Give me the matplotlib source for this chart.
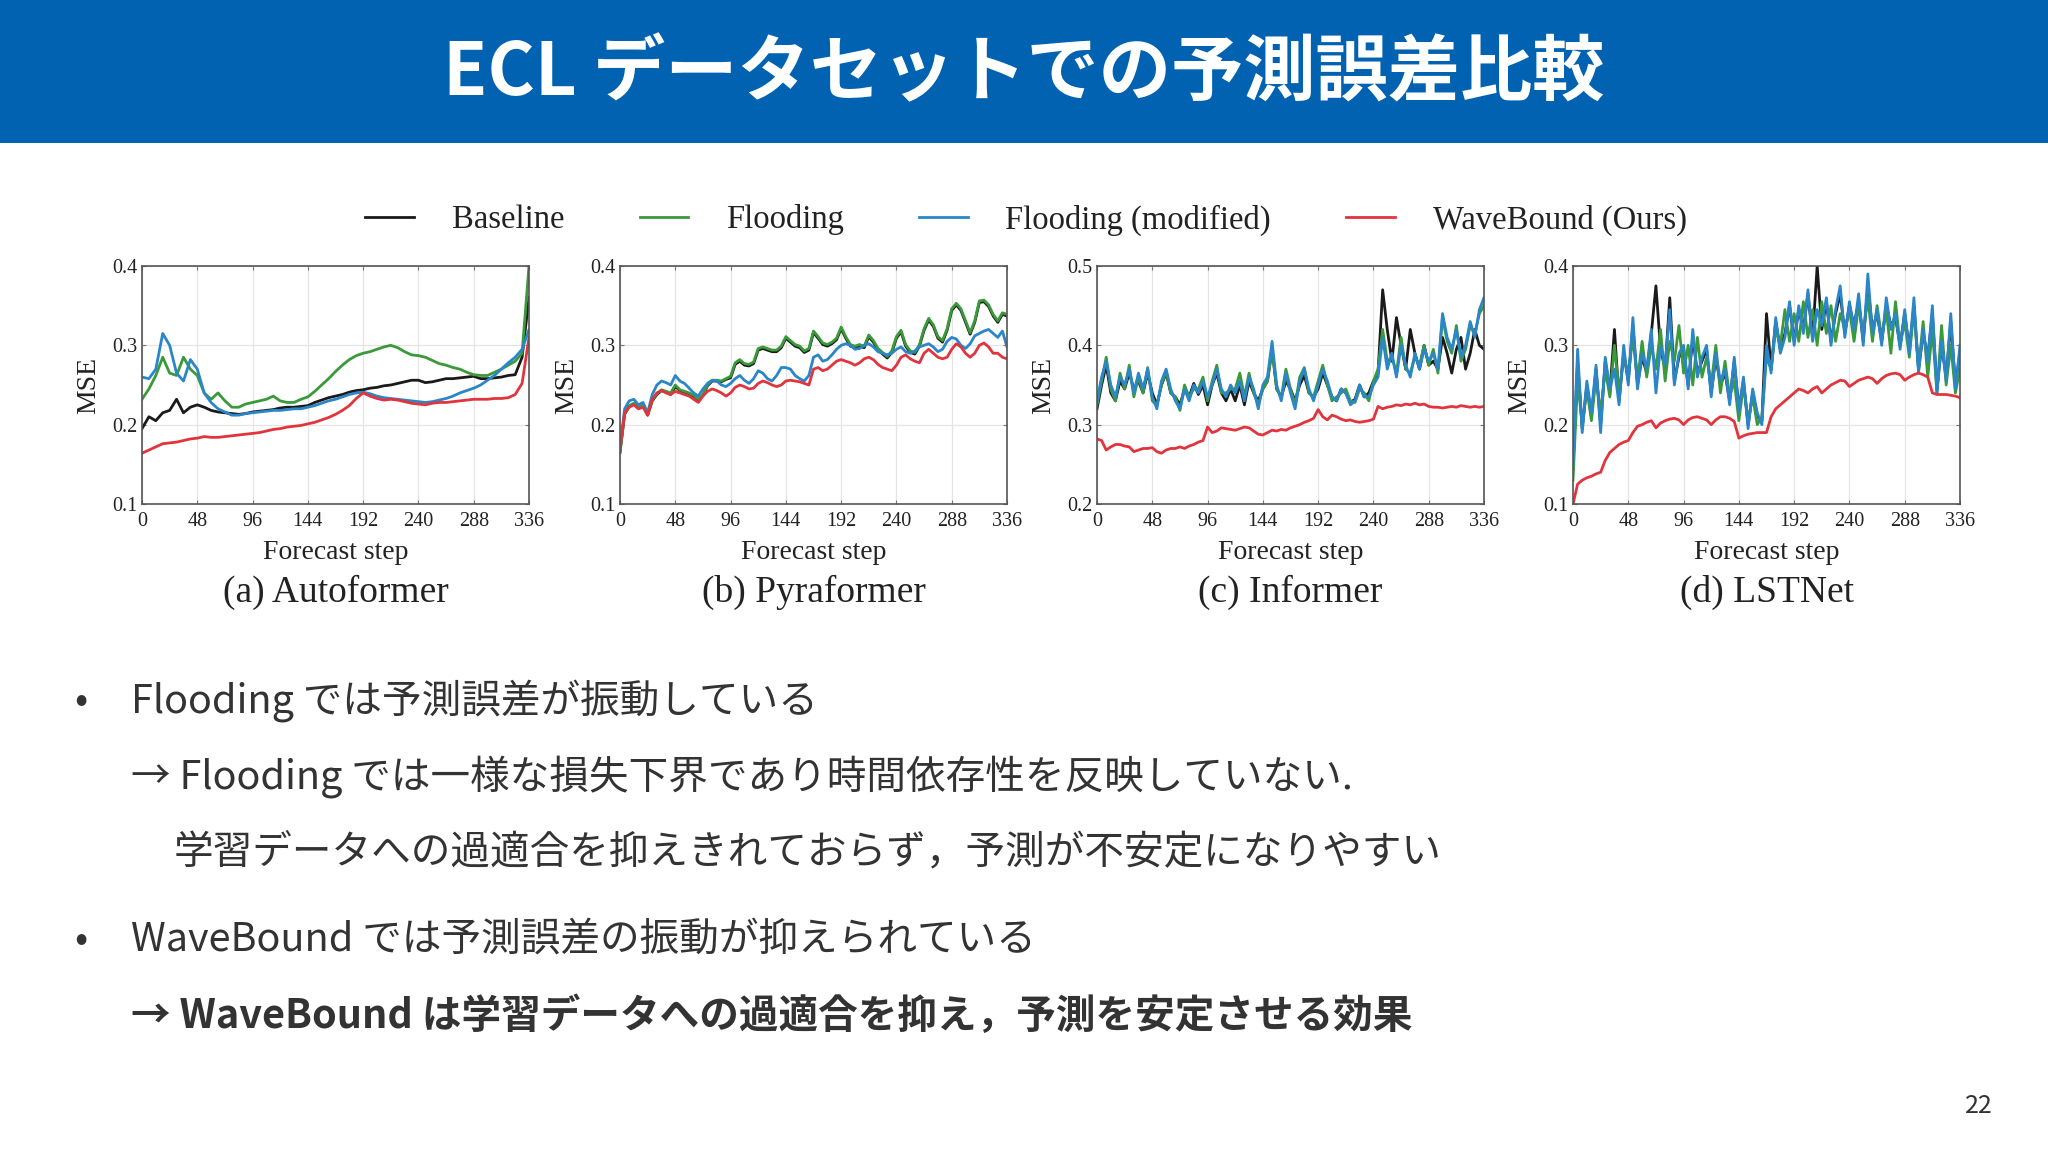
import numpy as np
import matplotlib
matplotlib.use("Agg")
import matplotlib.pyplot as plt
from matplotlib.lines import Line2D
from matplotlib.patches import Rectangle

JP = ["Noto Sans CJK JP", "DejaVu Sans"]
SERIF = "Liberation Serif"

TITLE = "ECL データセットでの予測誤差比較"
SERIES = ["Baseline", "Flooding", "Flooding (modified)", "WaveBound (Ours)"]
COLORS = ["#1a1a1a", "#3a9a3a", "#2a86c8", "#e2343c"]
XTICKS = [0, 48, 96, 144, 192, 240, 288, 336]
PANEL_TITLES = ["(a) Autoformer", "(b) Pyraformer", "(c) Informer", "(d) LSTNet"]
YLIMS = [(0.1, 0.4), (0.1, 0.4), (0.2, 0.5), (0.1, 0.4)]

# ---- (a) Autoformer, every 6 steps
auto_base = [0.195, 0.210, 0.205, 0.215, 0.218, 0.232, 0.215, 0.222, 0.225,
             0.222, 0.218, 0.216, 0.215, 0.214, 0.213, 0.214, 0.216,
             0.217, 0.218, 0.219, 0.221, 0.222, 0.222, 0.223, 0.224,
             0.228, 0.231, 0.234, 0.236, 0.238, 0.241, 0.243, 0.244,
             0.246, 0.247, 0.249, 0.250, 0.252, 0.254, 0.256, 0.256,
             0.253, 0.254, 0.256, 0.258, 0.258, 0.259, 0.260, 0.261,
             0.258, 0.258, 0.259, 0.260, 0.262, 0.263, 0.285, 0.360]
auto_flood = [0.232, 0.245, 0.262, 0.285, 0.265, 0.262, 0.285, 0.270, 0.262,
              0.240, 0.232, 0.240, 0.230, 0.222, 0.222, 0.226, 0.228,
              0.230, 0.232, 0.236, 0.230, 0.228, 0.228, 0.232, 0.235,
              0.242, 0.250, 0.258, 0.267, 0.275, 0.282, 0.287, 0.290,
              0.292, 0.295, 0.298, 0.300, 0.297, 0.292, 0.288, 0.287,
              0.285, 0.281, 0.277, 0.275, 0.272, 0.270, 0.266, 0.263,
              0.262, 0.262, 0.266, 0.270, 0.275, 0.280, 0.290, 0.400]
auto_mod = [0.260, 0.258, 0.270, 0.315, 0.300, 0.265, 0.255, 0.282, 0.270,
            0.240, 0.228, 0.220, 0.216, 0.212, 0.212, 0.214, 0.215,
            0.216, 0.217, 0.218, 0.218, 0.219, 0.220, 0.220, 0.222,
            0.224, 0.227, 0.230, 0.232, 0.235, 0.238, 0.240, 0.241,
            0.239, 0.236, 0.234, 0.233, 0.232, 0.231, 0.230, 0.229,
            0.228, 0.229, 0.231, 0.233, 0.236, 0.240, 0.243, 0.246,
            0.250, 0.256, 0.262, 0.270, 0.278, 0.285, 0.295, 0.320]
auto_wave = [0.164, 0.168, 0.172, 0.176, 0.177, 0.178, 0.180, 0.182, 0.183,
             0.185, 0.184, 0.184, 0.185, 0.186, 0.187, 0.188, 0.189,
             0.190, 0.192, 0.194, 0.195, 0.197, 0.198, 0.199, 0.201,
             0.203, 0.206, 0.209, 0.213, 0.218, 0.224, 0.233, 0.240,
             0.236, 0.233, 0.231, 0.232, 0.231, 0.229, 0.227, 0.226,
             0.225, 0.227, 0.228, 0.228, 0.229, 0.230, 0.231, 0.232,
             0.232, 0.232, 0.233, 0.233, 0.234, 0.238, 0.252, 0.310]

# ---- (b) Pyraformer, every 4 steps
pyra_base = [0.165, 0.213, 0.223, 0.226, 0.221, 0.224, 0.212, 0.230, 0.238, 0.243, 0.241, 0.238,
             0.248, 0.243, 0.241, 0.239, 0.236, 0.231, 0.237, 0.249, 0.255, 0.255, 0.254, 0.257,
             0.259, 0.276, 0.280, 0.275, 0.274, 0.277, 0.294, 0.296, 0.294, 0.292, 0.292, 0.297,
             0.309, 0.304, 0.299, 0.297, 0.291, 0.294, 0.316, 0.309, 0.301, 0.299, 0.302, 0.307,
             0.321, 0.309, 0.299, 0.297, 0.299, 0.297, 0.311, 0.304, 0.294, 0.289, 0.284, 0.291,
             0.309, 0.317, 0.299, 0.291, 0.289, 0.299, 0.319, 0.332, 0.324, 0.309, 0.304, 0.319,
             0.344, 0.351, 0.344, 0.329, 0.314, 0.329, 0.354, 0.355, 0.349, 0.337, 0.329, 0.339,
             0.337]
pyra_flood = [0.166, 0.214, 0.224, 0.227, 0.222, 0.225, 0.213, 0.231, 0.239, 0.244, 0.242, 0.240,
              0.250, 0.244, 0.242, 0.240, 0.237, 0.232, 0.238, 0.250, 0.256, 0.256, 0.255, 0.258,
              0.261, 0.278, 0.282, 0.277, 0.276, 0.279, 0.296, 0.298, 0.296, 0.294, 0.294, 0.299,
              0.311, 0.306, 0.301, 0.299, 0.293, 0.296, 0.318, 0.311, 0.303, 0.301, 0.304, 0.309,
              0.323, 0.311, 0.301, 0.299, 0.301, 0.299, 0.313, 0.306, 0.296, 0.291, 0.286, 0.293,
              0.311, 0.319, 0.301, 0.293, 0.291, 0.301, 0.321, 0.334, 0.326, 0.311, 0.306, 0.321,
              0.346, 0.353, 0.346, 0.331, 0.316, 0.331, 0.356, 0.357, 0.351, 0.339, 0.331, 0.341,
              0.339]
pyra_mod = [0.170, 0.220, 0.230, 0.232, 0.225, 0.228, 0.215, 0.238, 0.250, 0.255, 0.253, 0.250,
            0.262, 0.255, 0.252, 0.246, 0.240, 0.236, 0.245, 0.252, 0.256, 0.255, 0.250, 0.248,
            0.252, 0.258, 0.262, 0.256, 0.252, 0.258, 0.268, 0.265, 0.258, 0.255, 0.262, 0.272,
            0.272, 0.270, 0.262, 0.258, 0.255, 0.262, 0.285, 0.288, 0.280, 0.282, 0.288, 0.295,
            0.300, 0.302, 0.300, 0.295, 0.296, 0.300, 0.302, 0.298, 0.292, 0.290, 0.288, 0.290,
            0.295, 0.298, 0.292, 0.290, 0.293, 0.298, 0.300, 0.302, 0.298, 0.292, 0.295, 0.305,
            0.310, 0.308, 0.300, 0.296, 0.302, 0.312, 0.315, 0.318, 0.320, 0.315, 0.310, 0.318,
            0.298]
pyra_wave = [0.168, 0.215, 0.222, 0.225, 0.220, 0.222, 0.212, 0.232, 0.240, 0.243, 0.240, 0.238,
             0.242, 0.240, 0.238, 0.236, 0.232, 0.228, 0.236, 0.242, 0.245, 0.243, 0.240, 0.236,
             0.240, 0.247, 0.250, 0.248, 0.245, 0.246, 0.252, 0.255, 0.253, 0.250, 0.248, 0.250,
             0.255, 0.256, 0.255, 0.254, 0.252, 0.250, 0.270, 0.272, 0.268, 0.270, 0.275, 0.280,
             0.282, 0.280, 0.278, 0.275, 0.278, 0.283, 0.285, 0.282, 0.276, 0.272, 0.270, 0.268,
             0.275, 0.285, 0.288, 0.283, 0.280, 0.278, 0.290, 0.295, 0.290, 0.285, 0.283, 0.285,
             0.295, 0.302, 0.298, 0.290, 0.285, 0.290, 0.300, 0.303, 0.298, 0.290, 0.290, 0.285,
             0.283]

# ---- (c) Informer, every 4 steps
inf_base = [0.320, 0.350, 0.375, 0.340, 0.330, 0.355, 0.345, 0.365, 0.345, 0.355, 0.340, 0.365,
            0.340, 0.325, 0.350, 0.365, 0.340, 0.335, 0.325, 0.345, 0.335, 0.352, 0.338, 0.350,
            0.325, 0.350, 0.365, 0.340, 0.330, 0.345, 0.330, 0.350, 0.325, 0.355, 0.340, 0.330,
            0.345, 0.355, 0.395, 0.345, 0.335, 0.355, 0.345, 0.330, 0.350, 0.362, 0.340, 0.335,
            0.345, 0.365, 0.350, 0.335, 0.330, 0.345, 0.340, 0.328, 0.332, 0.350, 0.335, 0.340,
            0.355, 0.365, 0.470, 0.420, 0.380, 0.435, 0.400, 0.370, 0.420, 0.390, 0.370, 0.400,
            0.375, 0.380, 0.370, 0.410, 0.390, 0.365, 0.395, 0.410, 0.370, 0.390, 0.420, 0.400,
            0.395]
inf_flood = [0.325, 0.355, 0.385, 0.345, 0.330, 0.365, 0.345, 0.375, 0.335, 0.360, 0.340, 0.372,
             0.330, 0.325, 0.350, 0.368, 0.340, 0.335, 0.318, 0.350, 0.335, 0.345, 0.345, 0.360,
             0.330, 0.355, 0.375, 0.340, 0.340, 0.345, 0.345, 0.365, 0.335, 0.365, 0.340, 0.325,
             0.345, 0.355, 0.395, 0.345, 0.335, 0.370, 0.345, 0.325, 0.360, 0.372, 0.340, 0.335,
             0.355, 0.375, 0.350, 0.330, 0.335, 0.340, 0.345, 0.330, 0.328, 0.345, 0.340, 0.330,
             0.355, 0.370, 0.420, 0.380, 0.385, 0.365, 0.410, 0.370, 0.365, 0.385, 0.375, 0.400,
             0.375, 0.395, 0.365, 0.435, 0.405, 0.390, 0.425, 0.380, 0.395, 0.425, 0.415, 0.440,
             0.450]
inf_mod = [0.330, 0.360, 0.380, 0.350, 0.335, 0.360, 0.350, 0.370, 0.340, 0.365, 0.345, 0.370,
           0.335, 0.320, 0.355, 0.370, 0.345, 0.330, 0.320, 0.345, 0.330, 0.350, 0.340, 0.355,
           0.335, 0.350, 0.370, 0.345, 0.335, 0.350, 0.340, 0.355, 0.330, 0.360, 0.345, 0.320,
           0.350, 0.360, 0.405, 0.350, 0.330, 0.365, 0.340, 0.320, 0.355, 0.370, 0.345, 0.330,
           0.350, 0.370, 0.355, 0.335, 0.330, 0.345, 0.340, 0.325, 0.330, 0.350, 0.335, 0.335,
           0.350, 0.360, 0.410, 0.370, 0.390, 0.360, 0.400, 0.375, 0.360, 0.390, 0.370, 0.395,
           0.380, 0.390, 0.370, 0.440, 0.410, 0.395, 0.420, 0.385, 0.400, 0.430, 0.410, 0.445,
           0.460]
inf_wave = [0.282, 0.280, 0.268, 0.272, 0.275, 0.275, 0.273, 0.272, 0.266, 0.268, 0.270, 0.270,
            0.271, 0.266, 0.264, 0.268, 0.270, 0.270, 0.272, 0.270, 0.273, 0.275, 0.278, 0.280,
            0.297, 0.290, 0.292, 0.296, 0.295, 0.294, 0.293, 0.295, 0.297, 0.296, 0.292, 0.288,
            0.287, 0.290, 0.293, 0.292, 0.294, 0.293, 0.296, 0.298, 0.300, 0.303, 0.305, 0.308,
            0.319, 0.310, 0.306, 0.312, 0.310, 0.307, 0.305, 0.306, 0.304, 0.303, 0.304, 0.305,
            0.307, 0.323, 0.320, 0.322, 0.323, 0.325, 0.324, 0.326, 0.325, 0.327, 0.325, 0.326,
            0.323, 0.322, 0.322, 0.321, 0.322, 0.323, 0.322, 0.324, 0.323, 0.322, 0.323, 0.322,
            0.323]

# ---- (d) LSTNet, every 4 steps
lst_base = [0.145, 0.280, 0.195, 0.250, 0.210, 0.270, 0.200, 0.280, 0.240, 0.320, 0.230, 0.290,
            0.255, 0.325, 0.250, 0.285, 0.265, 0.315, 0.375, 0.295, 0.270, 0.360, 0.255, 0.285,
            0.295, 0.250, 0.310, 0.265, 0.280, 0.295, 0.240, 0.285, 0.250, 0.265, 0.230, 0.280,
            0.220, 0.255, 0.200, 0.240, 0.210, 0.205, 0.340, 0.270, 0.330, 0.295, 0.315, 0.350,
            0.305, 0.345, 0.320, 0.365, 0.310, 0.400, 0.320, 0.355, 0.305, 0.340, 0.365, 0.315,
            0.350, 0.325, 0.355, 0.305, 0.375, 0.320, 0.340, 0.305, 0.350, 0.325, 0.335, 0.300,
            0.340, 0.295, 0.350, 0.270, 0.315, 0.285, 0.340, 0.245, 0.300, 0.260, 0.330, 0.250,
            0.290]
lst_flood = [0.130, 0.255, 0.200, 0.245, 0.205, 0.260, 0.215, 0.270, 0.235, 0.300, 0.240, 0.285,
             0.265, 0.310, 0.255, 0.305, 0.260, 0.300, 0.270, 0.320, 0.255, 0.305, 0.280, 0.325,
             0.265, 0.300, 0.250, 0.310, 0.260, 0.285, 0.250, 0.300, 0.240, 0.280, 0.235, 0.255,
             0.205, 0.250, 0.205, 0.235, 0.200, 0.210, 0.285, 0.270, 0.320, 0.300, 0.345, 0.305,
             0.340, 0.305, 0.355, 0.310, 0.345, 0.300, 0.355, 0.315, 0.350, 0.305, 0.340, 0.320,
             0.345, 0.305, 0.350, 0.315, 0.360, 0.305, 0.350, 0.310, 0.345, 0.290, 0.355, 0.300,
             0.330, 0.285, 0.345, 0.270, 0.330, 0.260, 0.320, 0.240, 0.325, 0.250, 0.300, 0.240,
             0.270]
lst_mod = [0.150, 0.295, 0.190, 0.255, 0.215, 0.275, 0.190, 0.285, 0.245, 0.270, 0.225, 0.300,
           0.250, 0.335, 0.245, 0.290, 0.270, 0.320, 0.240, 0.300, 0.275, 0.345, 0.250, 0.290,
           0.300, 0.245, 0.320, 0.260, 0.285, 0.300, 0.235, 0.290, 0.255, 0.270, 0.225, 0.285,
           0.215, 0.260, 0.195, 0.245, 0.215, 0.200, 0.300, 0.265, 0.335, 0.290, 0.310, 0.355,
           0.300, 0.350, 0.315, 0.370, 0.305, 0.345, 0.325, 0.360, 0.300, 0.345, 0.375, 0.310,
           0.355, 0.320, 0.365, 0.300, 0.390, 0.315, 0.345, 0.300, 0.360, 0.320, 0.340, 0.295,
           0.345, 0.290, 0.360, 0.265, 0.320, 0.280, 0.350, 0.240, 0.305, 0.255, 0.340, 0.245,
           0.300]
lst_wave = [0.100, 0.125, 0.130, 0.133, 0.135, 0.138, 0.140, 0.155, 0.165, 0.170, 0.175, 0.178,
            0.180, 0.190, 0.198, 0.200, 0.203, 0.205, 0.196, 0.202, 0.205, 0.207, 0.208, 0.206,
            0.200, 0.206, 0.209, 0.210, 0.208, 0.206, 0.200, 0.206, 0.210, 0.210, 0.208, 0.204,
            0.183, 0.186, 0.188, 0.189, 0.190, 0.190, 0.190, 0.210, 0.220, 0.225, 0.230, 0.235,
            0.240, 0.245, 0.243, 0.240, 0.245, 0.248, 0.240, 0.245, 0.250, 0.253, 0.256, 0.255,
            0.248, 0.252, 0.256, 0.258, 0.260, 0.258, 0.252, 0.258, 0.262, 0.264, 0.265, 0.263,
            0.256, 0.260, 0.263, 0.265, 0.263, 0.260, 0.240, 0.238, 0.238, 0.238, 0.237, 0.236,
            0.234]

PANELS = [
    [auto_base, auto_flood, auto_mod, auto_wave],
    [pyra_base, pyra_flood, pyra_mod, pyra_wave],
    [inf_base, inf_flood, inf_mod, inf_wave],
    [lst_base, lst_flood, lst_mod, lst_wave],
]

W, H = 2048, 1152
fig = plt.figure(figsize=(W / 100, H / 100), dpi=100)
fig.patch.set_facecolor("white")

# header band + title
fig.add_artist(Rectangle((0, 1 - 143 / H), 1, 143 / H, transform=fig.transFigure,
                         facecolor="#0062B0", edgecolor="none", zorder=0))
fig.text(0.5, 1 - 74 / H, TITLE, ha="center", va="center", fontsize=52,
         fontweight="bold", color="white", family=JP)

lefts = [142, 620, 1097, 1573]
for i, left in enumerate(lefts):
    ax = fig.add_axes([left / W, 1 - 504 / H, 387 / W, 238 / H])
    for vals, c in zip(PANELS[i], COLORS):
        x = np.linspace(0, 336, len(vals))
        ax.plot(x, vals, color=c, lw=2.0)
    lo, hi = YLIMS[i]
    ax.set_xlim(0, 336)
    ax.set_ylim(lo, hi)
    ax.set_xticks(XTICKS)
    ax.set_yticks(np.round(np.arange(lo, hi + 1e-9, 0.1), 1))
    ax.grid(color="#e4e4e4", lw=0.9)
    ax.set_axisbelow(True)
    ax.tick_params(direction="in", top=True, right=True, length=3, width=0.8,
                   color="#777", labelsize=14.5, labelcolor="#222", pad=3)
    ax.tick_params(axis="x", pad=6)
    for lab in ax.get_xticklabels() + ax.get_yticklabels():
        lab.set_family(SERIF)
    for sp in ax.spines.values():
        sp.set_color("#555")
        sp.set_linewidth(1.2)
    ax.set_xlabel("Forecast step", family=SERIF, fontsize=20, color="#222", labelpad=6)
    ax.set_ylabel("MSE", family=SERIF, fontsize=20, color="#222", labelpad=8)
    ax.text(0.5, -0.37, PANEL_TITLES[i], transform=ax.transAxes, ha="center", va="center",
            family=SERIF, fontsize=27, color="#222")

handles = [Line2D([], [], color=c, lw=2.0) for c in COLORS]
fig.legend(handles, SERIES, loc="center", bbox_to_anchor=(0.501, 1 - 220 / H), ncol=4,
           frameon=False, prop={"family": SERIF, "size": 23.5}, handlelength=1.5,
           handletextpad=1.15, columnspacing=2.3, labelcolor="#222")

# bullet text
TXT = "#333333"
lines = [
    (81, 131, 701, "Flooding では予測誤差が振動している", "normal", True),
    (None, 131, 777, "→ Flooding では一様な損失下界であり時間依存性を反映していない.", "normal", False),
    (None, 174, 853, "学習データへの過適合を抑えきれておらず，予測が不安定になりやすい", "normal", False),
    (81, 131, 940, "WaveBound では予測誤差の振動が抑えられている", "normal", True),
    (None, 131, 1016, "→ WaveBound は学習データへの過適合を抑え，予測を安定させる効果", "bold", False),
]
for bx, tx, ty, s, w, bullet in lines:
    if bullet:
        fig.text(bx / W, 1 - ty / H, "•", ha="center", va="center", fontsize=28,
                 color=TXT, family=JP)
    fig.text(tx / W, 1 - ty / H, s, ha="left", va="center", fontsize=28.5,
             color=TXT, family=JP, fontweight=w)

fig.text(1979 / W, 1 - 1106 / H, "22", ha="center", va="center", fontsize=18,
         color="#333", family=JP)

fig.savefig("out.png", dpi=100)
